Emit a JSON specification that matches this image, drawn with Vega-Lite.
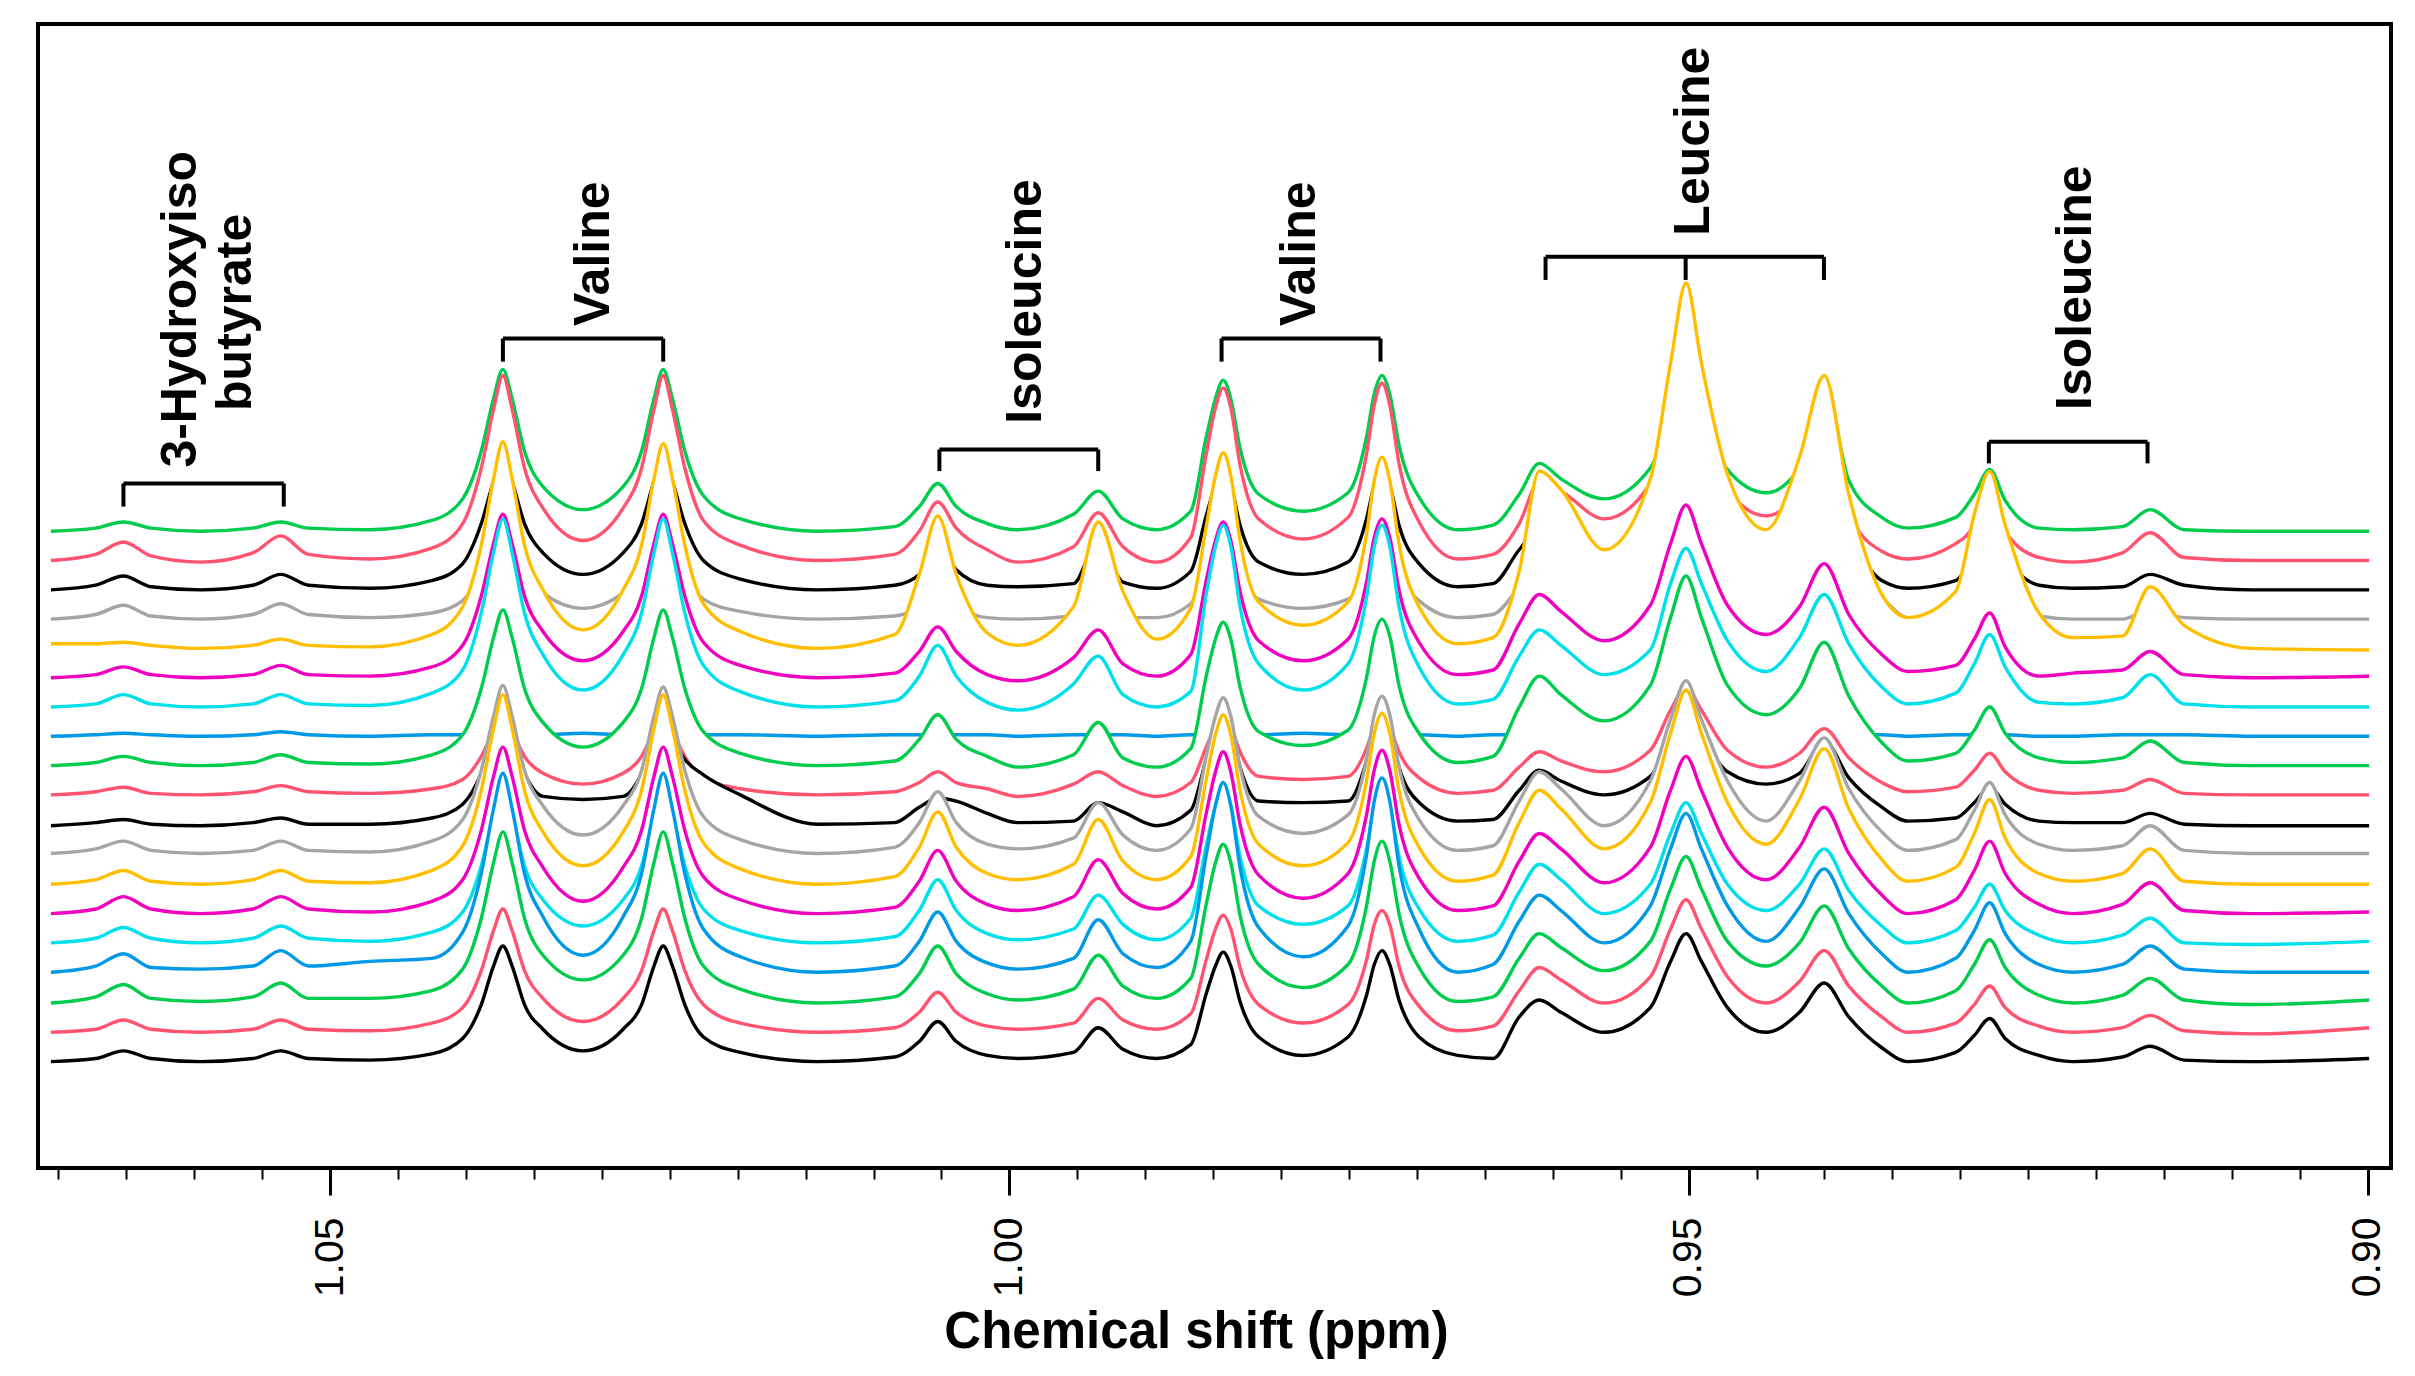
{"$schema":"https://vega.github.io/schema/vega-lite/v6.json","autosize":"none","width":2353,"height":1144,"padding":{"left":38,"top":24,"right":24,"bottom":208},"background":"white","config":{"view":{"stroke":"black","strokeWidth":4}},
"encoding":{"x":{"field":"p","type":"quantitative","scale":{"domain":[1.0715,0.8983],"nice":false,"zero":false},"axis":{"title":"Chemical shift (ppm)","grid":false,"domain":false,"values":[1.07,1.065,1.06,1.055,1.05,1.045,1.04,1.035,1.03,1.025,1.02,1.015,1.01,1.005,1.0,0.995,0.99,0.985,0.98,0.975,0.97,0.965,0.96,0.955,0.95,0.945,0.94,0.935,0.93,0.925,0.92,0.915,0.91,0.905,0.9],"labelExpr":"round(datum.value*1000)%50==0 ? format(datum.value,'.2f') : ''","labelAngle":270,"labelAlign":"right","labelBaseline":"middle","labelFont":"Liberation Sans","labelFontSize":41,"labelColor":"black","labelPadding":22,"labelOverlap":false,"labelBound":false,"labelFlush":false,"tickColor":"black","tickWidth":{"condition":{"test":"round(datum.value*1000)%50==0","value":3},"value":2},"tickSize":{"condition":{"test":"round(datum.value*1000)%50==0","value":27},"value":11},"titleFont":"Liberation Sans","titleFontWeight":"bold","titleFontSize":51,"titleColor":"black","titleY":164,"titleX":1158,"titleBaseline":"middle","titleAlign":"center"}}},
"layer":[{"data":{"values":[
{"p":1.07055,"a":413,"b":394,"c":375,"d":356,"e":340,"f":318,"g":299,"h":280,"i":261,"j":242,"k":222,"l":204,"m":184,"n":165,"o":146,"q":127,"r":107,"s":88,"t":69},
{"p":1.06726,"a":415,"b":398,"c":378,"d":359,"e":340,"f":320,"g":301,"h":281,"i":263,"j":244,"k":224,"l":207,"m":187,"n":168,"o":149,"q":131,"r":111,"s":90,"t":71},
{"p":1.06521,"a":419,"b":406,"c":384,"d":365,"e":341,"f":325,"g":307,"h":282,"i":267,"j":247,"k":226,"l":212,"m":193,"n":176,"o":156,"q":139,"r":119,"s":96,"t":76},
{"p":1.06317,"a":415,"b":397,"c":377,"d":358,"e":339,"f":320,"g":301,"h":281,"i":263,"j":243,"k":223,"l":206,"m":186,"n":168,"o":149,"q":130,"r":110,"s":90,"t":71},
{"p":1.05954,"a":413,"b":393,"c":375,"d":356,"e":337,"f":318,"g":299,"h":280,"i":261,"j":242,"k":222,"l":204,"m":184,"n":165,"o":146,"q":129,"r":108,"s":88,"t":69},
{"p":1.05568,"a":415,"b":399,"c":378,"d":359,"e":339,"f":320,"g":301,"h":281,"i":263,"j":244,"k":224,"l":206,"m":187,"n":168,"o":149,"q":131,"r":111,"s":90,"t":71},
{"p":1.05363,"a":419,"b":410,"c":385,"d":366,"e":343,"f":326,"g":307,"h":283,"i":268,"j":248,"k":227,"l":212,"m":193,"n":176,"o":157,"q":141,"r":120,"s":96,"t":76},
{"p":1.05159,"a":415,"b":398,"c":378,"d":359,"e":339,"f":320,"g":301,"h":281,"i":263,"j":244,"k":223,"l":206,"m":186,"n":168,"o":149,"q":131,"r":110,"s":90,"t":71},
{"p":1.04705,"a":414,"b":395,"c":376,"d":357,"e":338,"f":319,"g":300,"h":280,"i":262,"j":243,"k":223,"l":205,"m":185,"n":166,"o":147,"q":134,"r":110,"s":89,"t":70},
{"p":1.04251,"a":420,"b":402,"c":381,"d":360,"e":346,"f":325,"g":308,"h":281,"i":268,"j":246,"k":227,"l":212,"m":193,"n":173,"o":153,"q":136,"r":115,"s":94,"t":74},
{"p":1.04024,"a":434,"b":418,"c":392,"d":368,"e":364,"f":339,"g":323,"h":281,"i":281,"j":252,"k":236,"l":226,"m":209,"n":187,"o":166,"q":153,"r":129,"s":104,"t":84},
{"p":1.03887,"a":465,"b":454,"c":418,"d":386,"e":404,"f":371,"g":360,"h":281,"i":311,"j":267,"k":256,"l":258,"m":245,"n":219,"o":196,"q":191,"r":162,"s":128,"t":106},
{"p":1.03797,"a":499,"b":492,"c":445,"d":405,"e":447,"f":405,"g":399,"h":281,"i":344,"j":283,"k":278,"l":293,"m":285,"n":254,"o":229,"q":233,"r":198,"s":154,"t":131},
{"p":1.03728,"a":518,"b":514,"c":460,"d":416,"e":471,"f":424,"g":421,"h":281,"i":362,"j":292,"k":290,"l":313,"m":307,"n":273,"o":247,"q":256,"r":218,"s":168,"t":144},
{"p":1.0366,"a":499,"b":492,"c":445,"d":405,"e":447,"f":405,"g":399,"h":281,"i":344,"j":283,"k":278,"l":293,"m":285,"n":254,"o":229,"q":233,"r":198,"s":154,"t":131},
{"p":1.03569,"a":465,"b":454,"c":418,"d":386,"e":404,"f":371,"g":360,"h":281,"i":311,"j":267,"k":256,"l":258,"m":245,"n":219,"o":196,"q":191,"r":162,"s":128,"t":106},
{"p":1.03433,"a":442,"b":428,"c":399,"d":373,"e":375,"f":348,"g":333,"h":281,"i":289,"j":256,"k":241,"l":235,"m":218,"n":195,"o":174,"q":163,"r":138,"s":110,"t":90},
{"p":1.03138,"a":427,"b":407,"c":385,"d":363,"e":349,"f":329,"g":310,"h":282,"i":273,"j":249,"k":239,"l":216,"m":196,"n":173,"o":157,"q":138,"r":122,"s":95,"t":76},
{"p":1.02843,"a":442,"b":428,"c":399,"d":373,"e":375,"f":348,"g":333,"h":281,"i":289,"j":256,"k":241,"l":235,"m":218,"n":195,"o":174,"q":163,"r":138,"s":110,"t":90},
{"p":1.02707,"a":465,"b":454,"c":418,"d":386,"e":404,"f":371,"g":360,"h":281,"i":311,"j":267,"k":256,"l":258,"m":245,"n":219,"o":196,"q":191,"r":162,"s":128,"t":106},
{"p":1.02616,"a":499,"b":492,"c":445,"d":405,"e":447,"f":405,"g":399,"h":281,"i":344,"j":283,"k":278,"l":293,"m":285,"n":254,"o":229,"q":233,"r":198,"s":154,"t":131},
{"p":1.02548,"a":518,"b":514,"c":460,"d":416,"e":470,"f":424,"g":421,"h":281,"i":362,"j":292,"k":290,"l":312,"m":307,"n":273,"o":247,"q":256,"r":218,"s":168,"t":144},
{"p":1.0248,"a":499,"b":492,"c":445,"d":405,"e":447,"f":405,"g":399,"h":281,"i":344,"j":283,"k":278,"l":293,"m":285,"n":254,"o":229,"q":233,"r":198,"s":154,"t":131},
{"p":1.02389,"a":465,"b":454,"c":418,"d":386,"e":404,"f":371,"g":360,"h":281,"i":311,"j":267,"k":265,"l":258,"m":245,"n":219,"o":196,"q":191,"r":162,"s":128,"t":106},
{"p":1.02252,"a":436,"b":420,"c":394,"d":369,"e":366,"f":341,"g":326,"h":281,"i":283,"j":253,"k":255,"l":228,"m":211,"n":189,"o":168,"q":155,"r":131,"s":106,"t":85},
{"p":1.0198,"a":421,"b":404,"c":382,"d":361,"e":348,"f":326,"g":309,"h":281,"i":269,"j":246,"k":242,"l":213,"m":194,"n":174,"o":154,"q":137,"r":116,"s":94,"t":75},
{"p":1.01412,"a":413,"b":394,"c":375,"d":356,"e":337,"f":318,"g":299,"h":280,"i":261,"j":242,"k":223,"l":204,"m":184,"n":165,"o":146,"q":127,"r":107,"s":88,"t":69},
{"p":1.00845,"a":416,"b":398,"c":378,"d":358,"e":346,"f":321,"g":303,"h":281,"i":264,"j":244,"k":224,"l":208,"m":189,"n":169,"o":150,"q":131,"r":111,"s":91,"t":72},
{"p":1.00663,"a":429,"b":413,"c":385,"d":365,"e":385,"f":335,"g":319,"h":281,"i":278,"j":250,"k":234,"l":224,"m":208,"n":186,"o":167,"q":147,"r":126,"s":101,"t":82},
{"p":1.00527,"a":444,"b":432,"c":407,"d":381,"e":423,"f":351,"g":339,"h":281,"i":294,"j":257,"k":240,"l":244,"m":231,"n":206,"o":187,"q":166,"r":144,"s":114,"t":95},
{"p":1.00391,"a":429,"b":415,"c":388,"d":365,"e":385,"f":335,"g":319,"h":281,"i":278,"j":250,"k":238,"l":224,"m":208,"n":186,"o":167,"q":147,"r":126,"s":101,"t":82},
{"p":1.00163,"a":418,"b":401,"c":378,"d":357,"e":347,"f":320,"g":302,"h":281,"i":267,"j":246,"k":230,"l":210,"m":191,"n":171,"o":152,"q":133,"r":113,"s":92,"t":73},
{"p":0.99936,"a":414,"b":393,"c":377,"d":356,"e":339,"f":316,"g":297,"h":280,"i":260,"j":241,"k":224,"l":207,"m":187,"n":167,"o":148,"q":129,"r":109,"s":90,"t":71},
{"p":0.99528,"a":424,"b":403,"c":379,"d":358,"e":364,"f":331,"g":314,"h":281,"i":268,"j":249,"k":225,"l":214,"m":197,"n":176,"o":155,"q":136,"r":116,"s":94,"t":75},
{"p":0.99346,"a":439,"b":425,"c":407,"d":376,"e":419,"f":349,"g":332,"h":281,"i":289,"j":257,"k":237,"l":237,"m":226,"n":200,"o":177,"q":161,"r":138,"s":110,"t":91},
{"p":0.99164,"a":421,"b":403,"c":380,"d":357,"e":374,"f":327,"g":307,"h":281,"i":266,"j":248,"k":231,"l":216,"m":199,"n":178,"o":158,"q":139,"r":118,"s":96,"t":77},
{"p":0.98915,"a":414,"b":393,"c":376,"d":357,"e":343,"f":319,"g":299,"h":280,"i":260,"j":241,"k":222,"l":206,"m":187,"n":168,"o":148,"q":130,"r":110,"s":90,"t":71},
{"p":0.98665,"a":426,"b":409,"c":387,"d":366,"e":363,"f":333,"g":309,"h":281,"i":272,"j":250,"k":232,"l":220,"m":202,"n":182,"o":162,"q":147,"r":123,"s":100,"t":80},
{"p":0.98551,"a":474,"b":463,"c":423,"d":390,"e":416,"f":381,"g":372,"h":281,"i":319,"j":273,"k":265,"l":267,"m":252,"n":230,"o":209,"q":203,"r":171,"s":135,"t":113},
{"p":0.98483,"a":499,"b":493,"c":443,"d":404,"e":449,"f":407,"g":403,"h":281,"i":343,"j":286,"k":284,"l":293,"m":281,"n":257,"o":235,"q":235,"r":198,"s":155,"t":131},
{"p":0.98426,"a":511,"b":506,"c":452,"d":411,"e":464,"f":419,"g":417,"h":281,"i":354,"j":292,"k":292,"l":305,"m":294,"n":270,"o":247,"q":250,"r":210,"s":164,"t":140},
{"p":0.9837,"a":499,"b":493,"c":443,"d":404,"e":449,"f":407,"g":403,"h":281,"i":343,"j":286,"k":284,"l":293,"m":281,"n":257,"o":235,"q":235,"r":198,"s":155,"t":131},
{"p":0.98302,"a":467,"b":456,"c":417,"d":386,"e":407,"f":374,"g":364,"h":281,"i":312,"j":270,"k":260,"l":260,"m":245,"n":223,"o":202,"q":195,"r":164,"s":130,"t":108},
{"p":0.98165,"a":437,"b":421,"c":393,"d":369,"e":367,"f":342,"g":327,"h":281,"i":283,"j":254,"k":238,"l":228,"m":210,"n":190,"o":170,"q":156,"r":132,"s":106,"t":85},
{"p":0.97836,"a":426,"b":408,"c":385,"d":363,"e":352,"f":329,"g":310,"h":282,"i":274,"j":252,"k":237,"l":217,"m":196,"n":175,"o":158,"q":137,"r":117,"s":94,"t":73},
{"p":0.97507,"a":438,"b":422,"c":393,"d":369,"e":367,"f":343,"g":327,"h":281,"i":284,"j":254,"k":238,"l":229,"m":211,"n":191,"o":170,"q":157,"r":132,"s":106,"t":85},
{"p":0.97371,"a":474,"b":463,"c":421,"d":389,"e":411,"f":380,"g":370,"h":281,"i":318,"j":272,"k":264,"l":265,"m":251,"n":229,"o":207,"q":203,"r":170,"s":135,"t":112},
{"p":0.97314,"a":502,"b":495,"c":443,"d":404,"e":446,"f":409,"g":403,"h":281,"i":345,"j":286,"k":284,"l":294,"m":282,"n":258,"o":235,"q":238,"r":199,"s":158,"t":132},
{"p":0.97257,"a":514,"b":509,"c":452,"d":411,"e":461,"f":421,"g":417,"h":281,"i":356,"j":292,"k":292,"l":306,"m":295,"n":271,"o":247,"q":253,"r":212,"s":167,"t":141},
{"p":0.972,"a":502,"b":495,"c":443,"d":404,"e":446,"f":409,"g":403,"h":281,"i":345,"j":286,"k":284,"l":294,"m":282,"n":258,"o":235,"q":238,"r":199,"s":158,"t":132},
{"p":0.97132,"a":469,"b":457,"c":417,"d":386,"e":405,"f":375,"g":364,"h":281,"i":313,"j":270,"k":260,"l":260,"m":245,"n":223,"o":202,"q":196,"r":165,"s":131,"t":109},
{"p":0.96984,"a":435,"b":419,"c":392,"d":368,"e":364,"f":341,"g":325,"h":281,"i":282,"j":253,"k":237,"l":226,"m":208,"n":188,"o":168,"q":155,"r":130,"s":105,"t":85},
{"p":0.96701,"a":414,"b":395,"c":377,"d":357,"e":340,"f":320,"g":301,"h":280,"i":263,"j":243,"k":225,"l":206,"m":186,"n":167,"o":147,"q":127,"r":108,"s":89,"t":73},
{"p":0.9644,"a":417,"b":398,"c":379,"d":359,"e":344,"f":323,"g":304,"h":281,"i":267,"j":245,"k":226,"l":209,"m":190,"n":170,"o":151,"q":132,"r":111,"s":92,"t":71},
{"p":0.96247,"a":437,"b":418,"c":401,"d":376,"e":387,"f":353,"g":332,"h":281,"i":299,"j":260,"k":245,"l":238,"m":224,"n":199,"o":179,"q":160,"r":136,"s":115,"t":98},
{"p":0.96099,"a":457,"b":445,"c":415,"d":386,"e":452,"f":372,"g":349,"h":281,"i":319,"j":270,"k":258,"l":257,"m":245,"n":217,"o":197,"q":177,"r":152,"s":130,"t":109},
{"p":0.9594,"a":447,"b":439,"c":407,"d":380,"e":440,"f":361,"g":339,"h":281,"i":307,"j":264,"k":251,"l":246,"m":233,"n":207,"o":187,"q":167,"r":143,"s":122,"t":101},
{"p":0.95622,"a":434,"b":421,"c":385,"d":362,"e":401,"f":342,"g":320,"h":281,"i":290,"j":257,"k":242,"l":222,"m":207,"n":185,"o":165,"q":146,"r":128,"s":107,"t":88},
{"p":0.95282,"a":454,"b":444,"c":417,"d":386,"e":447,"f":365,"g":336,"h":281,"i":313,"j":271,"k":254,"l":251,"m":237,"n":208,"o":184,"q":170,"r":147,"s":124,"t":104},
{"p":0.95133,"a":500,"b":498,"c":453,"d":411,"e":522,"f":405,"g":379,"h":281,"i":357,"j":297,"k":280,"l":291,"m":282,"n":245,"o":217,"q":207,"r":181,"s":155,"t":134},
{"p":0.95019,"a":568,"b":542,"c":475,"d":426,"e":574,"f":430,"g":402,"h":281,"i":384,"j":312,"k":297,"l":316,"m":310,"n":267,"o":237,"q":230,"r":202,"s":174,"t":152},
{"p":0.94906,"a":500,"b":498,"c":453,"d":411,"e":522,"f":405,"g":379,"h":281,"i":357,"j":297,"k":280,"l":291,"m":282,"n":245,"o":217,"q":207,"r":181,"s":155,"t":134},
{"p":0.94714,"a":453,"b":440,"c":408,"d":380,"e":450,"f":365,"g":342,"h":281,"i":313,"j":271,"k":257,"l":251,"m":237,"n":208,"o":184,"q":170,"r":147,"s":124,"t":104},
{"p":0.9443,"a":438,"b":423,"c":387,"d":365,"e":414,"f":346,"g":322,"h":281,"i":294,"j":260,"k":249,"l":225,"m":210,"n":187,"o":167,"q":147,"r":131,"s":107,"t":88},
{"p":0.94184,"a":454,"b":440,"c":418,"d":387,"e":461,"f":364,"g":344,"h":281,"i":311,"j":269,"k":256,"l":251,"m":239,"n":208,"o":184,"q":169,"r":146,"s":121,"t":101},
{"p":0.94002,"a":508,"b":495,"c":445,"d":406,"e":514,"f":392,"g":372,"h":281,"i":341,"j":285,"k":277,"l":279,"m":272,"n":234,"o":207,"q":194,"r":170,"s":141,"t":120},
{"p":0.93821,"a":446,"b":425,"c":410,"d":390,"e":437,"f":359,"g":340,"h":281,"i":306,"j":266,"k":253,"l":246,"m":233,"n":204,"o":180,"q":165,"r":142,"s":118,"t":98},
{"p":0.93578,"a":422,"b":400,"c":381,"d":370,"e":372,"f":333,"g":312,"h":281,"i":276,"j":250,"k":234,"l":218,"m":200,"n":177,"o":157,"q":139,"r":118,"s":98,"t":78},
{"p":0.93386,"a":415,"b":395,"c":376,"d":357,"e":357,"f":322,"g":301,"h":280,"i":264,"j":244,"k":225,"l":206,"m":186,"n":165,"o":146,"q":127,"r":107,"s":88,"t":69},
{"p":0.93034,"a":422,"b":405,"c":381,"d":358,"e":374,"f":326,"g":308,"h":281,"i":269,"j":247,"k":227,"l":213,"m":195,"n":174,"o":154,"q":136,"r":115,"s":94,"t":75},
{"p":0.92897,"a":437,"b":418,"c":399,"d":374,"e":424,"f":343,"g":327,"h":281,"i":284,"j":258,"k":237,"l":232,"m":217,"n":193,"o":169,"q":154,"r":132,"s":106,"t":86},
{"p":0.92784,"a":453,"b":449,"c":415,"d":386,"e":452,"f":360,"g":346,"h":281,"i":299,"j":269,"k":247,"l":250,"m":239,"n":212,"o":184,"q":172,"r":148,"s":118,"t":97},
{"p":0.9267,"a":433,"b":413,"c":397,"d":372,"e":417,"f":338,"g":325,"h":281,"i":282,"j":257,"k":236,"l":229,"m":214,"n":191,"o":167,"q":152,"r":130,"s":104,"t":84},
{"p":0.92421,"a":415,"b":396,"c":378,"d":358,"e":360,"f":319,"g":302,"h":280,"i":266,"j":245,"k":225,"l":210,"m":191,"n":171,"o":151,"q":132,"r":112,"s":92,"t":73},
{"p":0.92171,"a":414,"b":393,"c":376,"d":356,"e":344,"f":321,"g":301,"h":280,"i":263,"j":243,"k":224,"l":206,"m":186,"n":165,"o":146,"q":127,"r":107,"s":88,"t":69},
{"p":0.91807,"a":416,"b":399,"c":377,"d":356,"e":345,"f":323,"g":305,"h":281,"i":266,"j":245,"k":224,"l":209,"m":191,"n":171,"o":151,"q":132,"r":112,"s":91,"t":72},
{"p":0.91603,"a":427,"b":412,"c":385,"d":362,"e":377,"f":335,"g":320,"h":281,"i":277,"j":252,"k":230,"l":222,"m":207,"n":185,"o":162,"q":144,"r":123,"s":99,"t":79},
{"p":0.91353,"a":414,"b":396,"c":378,"d":357,"e":352,"f":320,"g":301,"h":281,"i":263,"j":243,"k":223,"l":206,"m":186,"n":167,"o":146,"q":129,"r":109,"s":89,"t":70},
{"p":0.90854,"a":413,"b":394,"c":375,"d":356,"e":337,"f":318,"g":299,"h":280,"i":261,"j":242,"k":222,"l":204,"m":184,"n":165,"o":145,"q":127,"r":106,"s":87,"t":69},
{"p":0.89991,"a":413,"b":394,"c":375,"d":356,"e":336,"f":319,"g":299,"h":280,"i":261,"j":242,"k":222,"l":204,"m":184,"n":166,"o":147,"q":127,"r":109,"s":91,"t":71}
]},
"transform":[{"fold":["a","b","c","d","e","f","g","h","i","j","k","l","m","n","o","q","r","s","t"],"as":["spectrum","intensity"]}],
"encoding":{"y":{"field":"intensity","type":"quantitative","scale":{"domain":[0,742],"nice":false,"zero":false},"axis":null}},
"layer":[
{"transform":[{"filter":"datum.spectrum=='a'"}],"layer":[{"mark":{"type":"area","fill":"white","opacity":1,"interpolate":"monotone"},"encoding":{"y2":{"datum":30}}},{"mark":{"type":"line","strokeWidth":3.4,"interpolate":"monotone"},"encoding":{"color":{"field":"spectrum","legend":null,"scale":{"domain":["a","b","c","d","e","f","g","h","i","j","k","l","m","n","o","q","r","s","t"],"range":["#00CC4D","#FF5370","#000000","#A5A5A5","#FFBF00","#F000BF","#00E0EA","#0099E6","#00CC4D","#FF5370","#000000","#A5A5A5","#FFBF00","#F000BF","#00E0EA","#0099E6","#00CC4D","#FF5370","#000000"]}}}}]},
{"transform":[{"filter":"datum.spectrum=='b'"}],"layer":[{"mark":{"type":"area","fill":"white","opacity":1,"interpolate":"monotone"},"encoding":{"y2":{"datum":30}}},{"mark":{"type":"line","strokeWidth":3.4,"interpolate":"monotone"},"encoding":{"color":{"field":"spectrum","legend":null}}}]},
{"transform":[{"filter":"datum.spectrum=='c'"}],"layer":[{"mark":{"type":"area","fill":"white","opacity":1,"interpolate":"monotone"},"encoding":{"y2":{"datum":30}}},{"mark":{"type":"line","strokeWidth":3.4,"interpolate":"monotone"},"encoding":{"color":{"field":"spectrum","legend":null}}}]},
{"transform":[{"filter":"datum.spectrum=='d'"}],"layer":[{"mark":{"type":"area","fill":"white","opacity":1,"interpolate":"monotone"},"encoding":{"y2":{"datum":30}}},{"mark":{"type":"line","strokeWidth":3.4,"interpolate":"monotone"},"encoding":{"color":{"field":"spectrum","legend":null}}}]},
{"transform":[{"filter":"datum.spectrum=='e'"}],"layer":[{"mark":{"type":"area","fill":"white","opacity":1,"interpolate":"monotone"},"encoding":{"y2":{"datum":30}}},{"mark":{"type":"line","strokeWidth":3.4,"interpolate":"monotone"},"encoding":{"color":{"field":"spectrum","legend":null}}}]},
{"transform":[{"filter":"datum.spectrum=='f'"}],"layer":[{"mark":{"type":"area","fill":"white","opacity":1,"interpolate":"monotone"},"encoding":{"y2":{"datum":30}}},{"mark":{"type":"line","strokeWidth":3.4,"interpolate":"monotone"},"encoding":{"color":{"field":"spectrum","legend":null}}}]},
{"transform":[{"filter":"datum.spectrum=='g'"}],"layer":[{"mark":{"type":"area","fill":"white","opacity":1,"interpolate":"monotone"},"encoding":{"y2":{"datum":30}}},{"mark":{"type":"line","strokeWidth":3.4,"interpolate":"monotone"},"encoding":{"color":{"field":"spectrum","legend":null}}}]},
{"transform":[{"filter":"datum.spectrum=='h'"}],"layer":[{"mark":{"type":"area","fill":"white","opacity":1,"interpolate":"monotone"},"encoding":{"y2":{"datum":30}}},{"mark":{"type":"line","strokeWidth":3.4,"interpolate":"monotone"},"encoding":{"color":{"field":"spectrum","legend":null}}}]},
{"transform":[{"filter":"datum.spectrum=='i'"}],"layer":[{"mark":{"type":"area","fill":"white","opacity":1,"interpolate":"monotone"},"encoding":{"y2":{"datum":30}}},{"mark":{"type":"line","strokeWidth":3.4,"interpolate":"monotone"},"encoding":{"color":{"field":"spectrum","legend":null}}}]},
{"transform":[{"filter":"datum.spectrum=='j'"}],"layer":[{"mark":{"type":"area","fill":"white","opacity":1,"interpolate":"monotone"},"encoding":{"y2":{"datum":30}}},{"mark":{"type":"line","strokeWidth":3.4,"interpolate":"monotone"},"encoding":{"color":{"field":"spectrum","legend":null}}}]},
{"transform":[{"filter":"datum.spectrum=='k'"}],"layer":[{"mark":{"type":"area","fill":"white","opacity":1,"interpolate":"monotone"},"encoding":{"y2":{"datum":30}}},{"mark":{"type":"line","strokeWidth":3.4,"interpolate":"monotone"},"encoding":{"color":{"field":"spectrum","legend":null}}}]},
{"transform":[{"filter":"datum.spectrum=='l'"}],"layer":[{"mark":{"type":"area","fill":"white","opacity":1,"interpolate":"monotone"},"encoding":{"y2":{"datum":30}}},{"mark":{"type":"line","strokeWidth":3.4,"interpolate":"monotone"},"encoding":{"color":{"field":"spectrum","legend":null}}}]},
{"transform":[{"filter":"datum.spectrum=='m'"}],"layer":[{"mark":{"type":"area","fill":"white","opacity":1,"interpolate":"monotone"},"encoding":{"y2":{"datum":30}}},{"mark":{"type":"line","strokeWidth":3.4,"interpolate":"monotone"},"encoding":{"color":{"field":"spectrum","legend":null}}}]},
{"transform":[{"filter":"datum.spectrum=='n'"}],"layer":[{"mark":{"type":"area","fill":"white","opacity":1,"interpolate":"monotone"},"encoding":{"y2":{"datum":30}}},{"mark":{"type":"line","strokeWidth":3.4,"interpolate":"monotone"},"encoding":{"color":{"field":"spectrum","legend":null}}}]},
{"transform":[{"filter":"datum.spectrum=='o'"}],"layer":[{"mark":{"type":"area","fill":"white","opacity":1,"interpolate":"monotone"},"encoding":{"y2":{"datum":30}}},{"mark":{"type":"line","strokeWidth":3.4,"interpolate":"monotone"},"encoding":{"color":{"field":"spectrum","legend":null}}}]},
{"transform":[{"filter":"datum.spectrum=='q'"}],"layer":[{"mark":{"type":"area","fill":"white","opacity":1,"interpolate":"monotone"},"encoding":{"y2":{"datum":30}}},{"mark":{"type":"line","strokeWidth":3.4,"interpolate":"monotone"},"encoding":{"color":{"field":"spectrum","legend":null}}}]},
{"transform":[{"filter":"datum.spectrum=='r'"}],"layer":[{"mark":{"type":"area","fill":"white","opacity":1,"interpolate":"monotone"},"encoding":{"y2":{"datum":30}}},{"mark":{"type":"line","strokeWidth":3.4,"interpolate":"monotone"},"encoding":{"color":{"field":"spectrum","legend":null}}}]},
{"transform":[{"filter":"datum.spectrum=='s'"}],"layer":[{"mark":{"type":"area","fill":"white","opacity":1,"interpolate":"monotone"},"encoding":{"y2":{"datum":30}}},{"mark":{"type":"line","strokeWidth":3.4,"interpolate":"monotone"},"encoding":{"color":{"field":"spectrum","legend":null}}}]},
{"transform":[{"filter":"datum.spectrum=='t'"}],"layer":[{"mark":{"type":"area","fill":"white","opacity":1,"interpolate":"monotone"},"encoding":{"y2":{"datum":30}}},{"mark":{"type":"line","strokeWidth":3.4,"interpolate":"monotone"},"encoding":{"color":{"field":"spectrum","legend":null}}}]}
]},
{"data":{"values":[
{"p":1.06521,"p2":1.05341,"y":444,"y2":444},{"p":1.06521,"p2":1.06521,"y":444,"y2":429},{"p":1.05341,"p2":1.05341,"y":444,"y2":429},
{"p":1.03728,"p2":1.02548,"y":538,"y2":538},{"p":1.03728,"p2":1.03728,"y":538,"y2":523},{"p":1.02548,"p2":1.02548,"y":538,"y2":523},
{"p":1.00515,"p2":0.99346,"y":466,"y2":466},{"p":1.00515,"p2":1.00515,"y":466,"y2":452},{"p":0.99346,"p2":0.99346,"y":466,"y2":452},
{"p":0.98438,"p2":0.97268,"y":538,"y2":538},{"p":0.98438,"p2":0.98438,"y":538,"y2":523},{"p":0.97268,"p2":0.97268,"y":538,"y2":523},
{"p":0.96053,"p2":0.94004,"y":591,"y2":591},{"p":0.96053,"p2":0.96053,"y":591,"y2":576},{"p":0.95022,"p2":0.95022,"y":591,"y2":576},{"p":0.94004,"p2":0.94004,"y":591,"y2":576},
{"p":0.9279,"p2":0.91622,"y":471,"y2":471},{"p":0.9279,"p2":0.9279,"y":471,"y2":457},{"p":0.91622,"p2":0.91622,"y":471,"y2":457}
]},
"mark":{"type":"rule","color":"black","strokeWidth":4},
"encoding":{"x2":{"field":"p2"},"y":{"field":"y","type":"quantitative","axis":null},"y2":{"field":"y2"}}},
{"data":{"values":[
{"p":1.06101,"y":557,"t":"3-Hydroxyiso"},{"p":1.05693,"y":555,"t":"butyrate"},{"p":1.03059,"y":593,"t":"Valine"},{"p":0.9988,"y":562,"t":"Isoleucine"},{"p":0.97859,"y":593,"t":"Valine"},{"p":0.94964,"y":666,"t":"Leucine"},{"p":0.92148,"y":571,"t":"Isoleucine"}
]},
"mark":{"type":"text","angle":270,"align":"center","baseline":"middle","font":"Liberation Sans","fontWeight":"bold","fontSize":50,"color":"black"},
"encoding":{"y":{"field":"y","type":"quantitative","axis":null},"text":{"field":"t"}}}
]}
